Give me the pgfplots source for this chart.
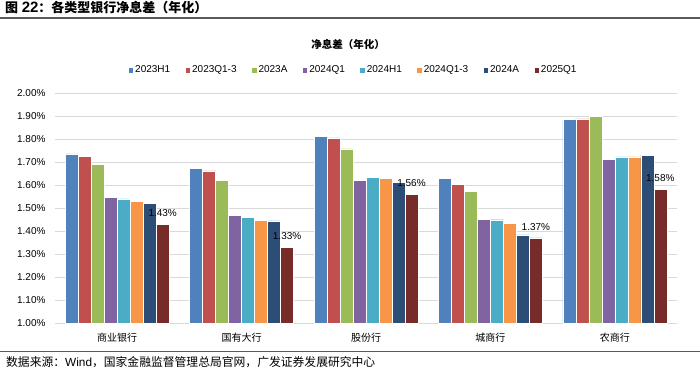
\documentclass[border=0pt]{standalone}
\usepackage{fontspec}
\setmainfont{Liberation Sans}
\newfontfamily\cjk{Noto Sans CJK SC}
\usepackage{pgfplots}
\pgfplotsset{compat=1.18}
\definecolor{c1}{HTML}{4F81BD}
\definecolor{c2}{HTML}{C0504D}
\definecolor{c3}{HTML}{9BBB59}
\definecolor{c4}{HTML}{8064A2}
\definecolor{c5}{HTML}{4BACC6}
\definecolor{c6}{HTML}{F79646}
\definecolor{c7}{HTML}{2C4D75}
\definecolor{c8}{HTML}{772C2A}
\definecolor{gridc}{HTML}{D9D9D9}
\definecolor{linec}{HTML}{595959}
\begin{document}
\begin{tikzpicture}
\useasboundingbox (0,0) rectangle (700bp,-372bp);
% page title and rules
\node[anchor=west,inner sep=0pt,font=\fontsize{13bp}{15bp}\selectfont\bfseries] at (5bp,-8bp) {{\cjk 图} {\fontsize{15bp}{15bp}\selectfont 22}{\cjk ：各类型银行净息差（年化）}};
\draw[linec,line width=1.8bp] (0,-18bp) -- (700bp,-18bp);
\draw[linec,line width=1.8bp] (0,-351.5bp) -- (700bp,-351.5bp);
\node[anchor=west,inner sep=0pt,font=\fontsize{11.8bp}{13bp}\selectfont] at (6bp,-362bp) {{\cjk 数据来源：}Wind{\cjk ，国家金融监督管理总局官网，广发证券发展研究中心}};
\node[inner sep=0pt,font=\fontsize{10.5bp}{12bp}\selectfont\cjk\bfseries] at (348bp,-44bp) {净息差（年化）};
\begin{axis}[
  at={(55bp,-323bp)}, anchor=south west,
  width=622bp, height=230bp, scale only axis,
  ybar=0pt, bar width=13bp,
  xmin=-0.5, xmax=4.5, ymin=1, ymax=2,
  xtick={0,1,2,3,4},
  xticklabels={商业银行,国有大行,股份行,城商行,农商行},
  xticklabel style={font=\fontsize{10bp}{12bp}\selectfont\cjk, yshift=-2bp},
  ytick={1,1.1,1.2,1.3,1.4,1.5,1.6,1.7,1.8,1.9,2.0},
  yticklabel={\pgfmathprintnumber[fixed,fixed zerofill,precision=2]{\tick}\%},
  yticklabel style={font=\fontsize{10bp}{12bp}\selectfont, xshift=-6bp},
  /pgf/number format/assume math mode=true,
  ymajorgrids, grid style={gridc, line width=0.8bp},
  axis line style={draw=none},
  major tick style={draw=none},
  every axis plot/.append style={draw=white, line width=0.4bp},
  legend columns=8,
  legend style={draw=none, fill=none, at={(axis description cs:0.479,1.1)}, anchor=center,
    font=\fontsize{10bp}{12bp}\selectfont,
    /tikz/every even column/.append style={column sep=13bp},
    nodes={inner sep=1.5bp}},
  legend image code/.code={\fill[#1] (0bp,-2.75bp) rectangle (5.5bp,2.75bp);},
]
\addplot[fill=c1] coordinates {(0,1.735) (1,1.673) (2,1.812) (3,1.63) (4,1.884)};
\addplot[fill=c2] coordinates {(0,1.724) (1,1.661) (2,1.805) (3,1.602) (4,1.887)};
\addplot[fill=c3] coordinates {(0,1.691) (1,1.619) (2,1.757) (3,1.573) (4,1.90)};
\addplot[fill=c4] coordinates {(0,1.545) (1,1.468) (2,1.620) (3,1.452) (4,1.713)};
\addplot[fill=c5] coordinates {(0,1.540) (1,1.459) (2,1.634) (3,1.449) (4,1.722)};
\addplot[fill=c6] coordinates {(0,1.530) (1,1.446) (2,1.628) (3,1.432) (4,1.722)};
\addplot[fill=c7] coordinates {(0,1.520) (1,1.444) (2,1.612) (3,1.383) (4,1.730)};
\addplot[fill=c8, nodes near coords={\pgfmathprintnumber[fixed,fixed zerofill,precision=2]{\pgfplotspointmeta}\%},
  every node near coord/.append style={font=\fontsize{10bp}{12bp}\selectfont, text=black, yshift=4bp}]
  coordinates {(0,1.43) (1,1.33) (2,1.56) (3,1.37) (4,1.58)};
\legend{2023H1,2023Q1-3,2023A,2024Q1,2024H1,2024Q1-3,2024A,2025Q1}
\end{axis}
\end{tikzpicture}
\end{document}
